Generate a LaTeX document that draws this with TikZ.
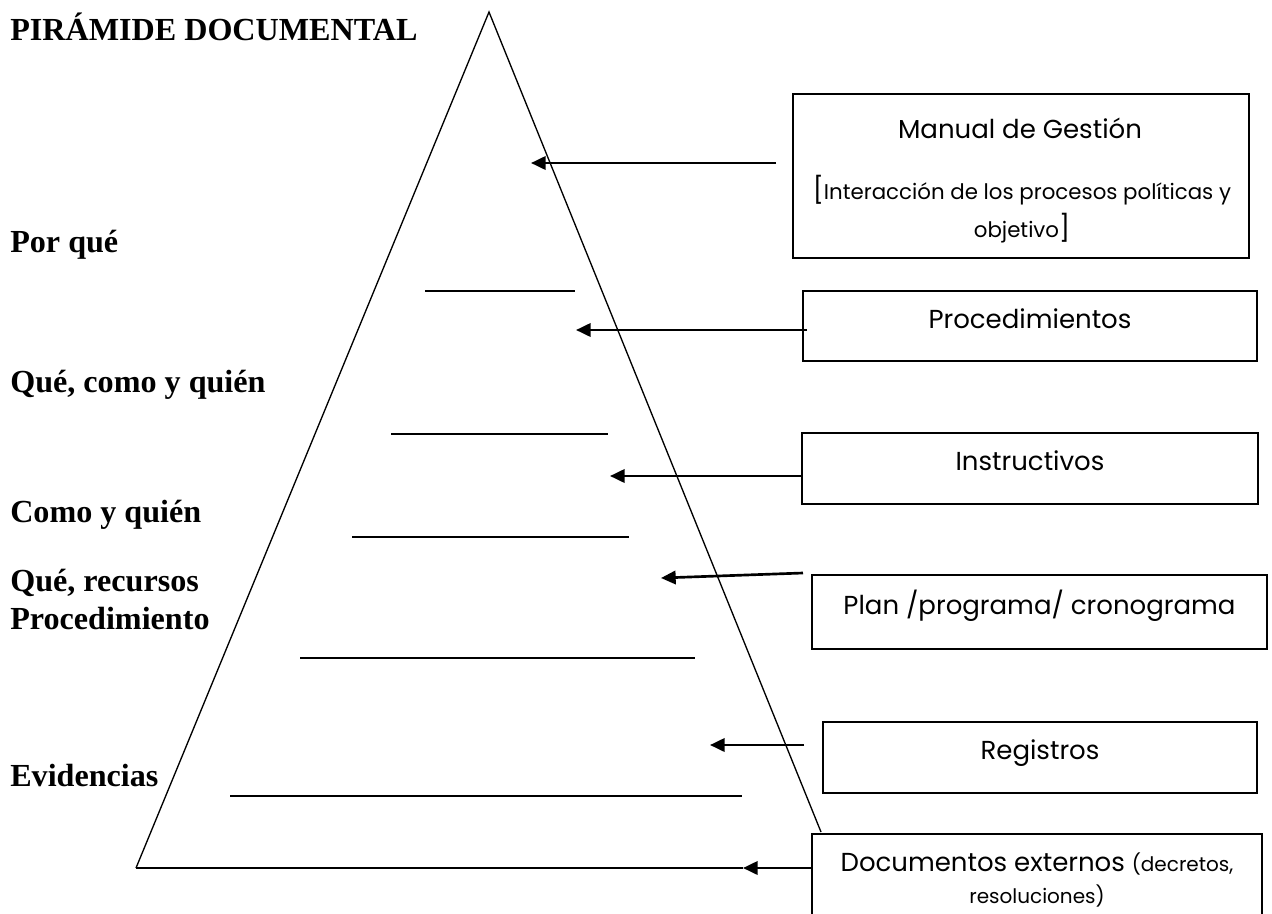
\documentclass[tikz,border=0pt]{standalone}
\usepackage{fontspec}
\setmainfont{Liberation Serif}
\newfontfamily\gothfont{Poppins}
\usetikzlibrary{arrows.meta}
\newcommand{\docchico}{\fontsize{15}{24}\selectfont}
\newcommand{\corchete}[1]{{\fontsize{19.5}{29}\selectfont#1}}
\tikzset{
  caja/.style={draw,line width=1.2pt,rectangle,inner sep=0pt,outer sep=0pt},
  cajatxt/.style={font=\gothfont\fontsize{19.5}{24}\selectfont,align=center,inner sep=0pt},
  unalinea/.style={text height=14pt,text depth=11pt},
  nivel/.style={font=\bfseries\fontsize{24.1}{28.5}\selectfont,anchor=base west,inner sep=0pt},
  flecha/.style={line width=2pt,-{Triangle[length=11pt,width=10pt]}},
  raya/.style={line width=1pt}
}

\begin{document}
\begin{tikzpicture}[x=0.75pt,y=-0.75pt]
\clip (0,0) rectangle (1272,914);
% piramide
\coordinate (cima) at (489,12);
\coordinate (izq) at (136,868);
\coordinate (der) at (821,832);
\draw[raya] (izq)--(cima)--(der);
\draw[raya] (425,291)--(575,291);
\draw[raya] (391,434)--(608,434);
\draw[raya] (352,537)--(629,537);
\draw[raya] (300,658)--(695,658);
\draw[raya] (230,796)--(742,796);

% textos de la izquierda
\node[nivel] (titulo) at (10,40) {PIRÁMIDE DOCUMENTAL};
\node[nivel] (porque) at (10,252) {Por qué};
\node[nivel] (quecomo) at (10,392) {Qué, como y quién};
\node[nivel] (como) at (10,522) {Como y quién};
\node[nivel] (recursos) at (10,591) {Qué, recursos};
\node[nivel] (proced) at (10,629) {Procedimiento};
\node[nivel] (evid) at (10,786) {Evidencias};

% cajas
\node[caja,minimum width=342pt,minimum height=123pt] (man) at (1021,176) {};
\node[cajatxt] (manT) at (1020,128) {Manual de Gestión};
\node[cajatxt,font=\gothfont\fontsize{16}{29}\selectfont] (manS) at (1022,209)
  {\corchete{[}Interacción de los procesos políticas y\\objetivo\corchete{]}};
\node[caja,cajatxt,unalinea,minimum width=340.5pt,minimum height=52.5pt] (proc) at (1030,326) {Procedimientos};
\node[caja,cajatxt,unalinea,minimum width=342pt,minimum height=53.25pt] (inst) at (1030,468.5) {Instructivos};
\node[caja,cajatxt,unalinea,minimum width=341.25pt,minimum height=55.5pt] (plan) at (1039.5,612) {Plan /programa/ cronograma};
\node[caja,cajatxt,unalinea,minimum width=325.5pt,minimum height=53.25pt] (reg) at (1040,757.5) {Registros};
\node[caja,cajatxt,minimum width=337.5pt,minimum height=69pt] (doc) at (1037,880)
  {Documentos externos {\docchico(decretos,}\\{\docchico resoluciones)}};

% flechas
\coordinate (manA) at (776,163);  \coordinate (manB) at (531,163);
\coordinate (procA) at (807,330); \coordinate (procB) at (576,330);
\coordinate (instB) at (610,476);
\coordinate (planA) at (803,573); \coordinate (planB) at (661,578);
\coordinate (regA) at (804,745);  \coordinate (regB) at (710,745);
\coordinate (docB) at (743,868);
\draw[flecha] (manA)--(manB);
\draw[flecha] (procA)--(procB);
\draw[flecha] (inst.west |- instB)--(instB);
\draw[flecha] (planA)--(planB);
\draw[flecha] (regA)--(regB);
\draw[flecha] (doc.west |- docB)--(docB);
\draw[raya] (izq)--(docB);
\end{tikzpicture}
\end{document}
